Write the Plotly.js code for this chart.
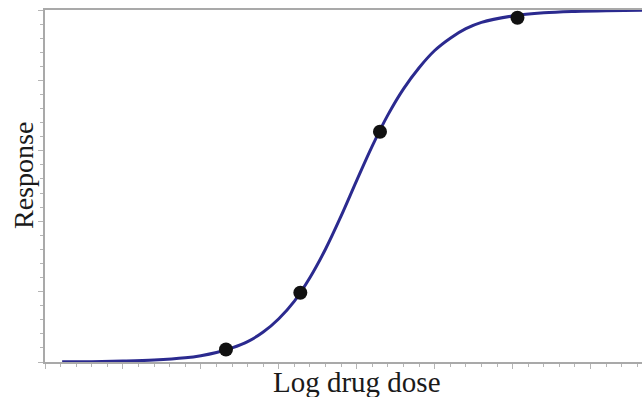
<!DOCTYPE html>
<html>
<head>
<meta charset="utf-8">
<script src="https://cdn.plot.ly/plotly-3.0.1.min.js"></script>
<style>html,body{margin:0;padding:0;background:#fff;}#chart{width:642px;height:397px;}</style>
</head>
<body>
<div id="chart"></div>
<script>
// Log dose (axis units: one minor tick = 1) and response (0-100)
const curveDose = [1.1, 3, 5, 7, 9, 10, 11, 12, 13, 14, 15, 16, 17, 18, 19, 20, 21, 22, 23, 24, 25, 26, 27, 28, 30, 32, 34, 36, 38.3];
const curveResp = [0.05, 0.1, 0.25, 0.55, 1.2, 1.8, 2.7, 4.0, 5.8, 8.5, 12.3, 17.3, 24.0, 32.1, 41.5, 51.6, 61.4, 70.2, 77.6, 83.6, 88.5, 92.0, 94.7, 96.5, 98.3, 99.2, 99.6, 99.8, 99.9];
const pointDose = [11.61, 16.38, 21.49, 30.31];
const pointResp = [3.55, 19.66, 65.4, 97.8];
const xTitle = 'Log drug dose';
const yTitle = 'Response';

const axisColor = '#a9a9a9';
const tickColor = '#b5b5b5';

const data = [
  {x: curveDose, y: curveResp, type: 'scatter', mode: 'lines',
   line: {color: '#2b2a8f', width: 3, shape: 'spline'}, hoverinfo: 'skip'},
  {x: pointDose, y: pointResp, type: 'scatter', mode: 'markers',
   marker: {color: '#111111', size: 14}, cliponaxis: false}
];

const layout = {
  width: 642, height: 397,
  margin: {l: 45, r: 0, t: 10, b: 35},
  paper_bgcolor: '#ffffff', plot_bgcolor: '#ffffff',
  showlegend: false,
  xaxis: {
    range: [0, 38.3], showgrid: false, zeroline: false,
    showline: true, linecolor: axisColor, linewidth: 2, mirror: true,
    ticks: 'outside', dtick: 5, tick0: 0, ticklen: 5, tickcolor: tickColor, tickwidth: 1,
    showticklabels: false,
    minor: {dtick: 1, tick0: 0, ticks: 'outside', ticklen: 3, tickcolor: tickColor, tickwidth: 1, showgrid: false}
  },
  yaxis: {
    range: [0, 100], showgrid: false, zeroline: false,
    showline: true, linecolor: axisColor, linewidth: 2,
    ticks: 'outside', dtick: 20, tick0: 0, ticklen: 5, tickcolor: tickColor, tickwidth: 1,
    showticklabels: false,
    minor: {dtick: 4, tick0: 0, ticks: 'outside', ticklen: 3, tickcolor: tickColor, tickwidth: 1, showgrid: false}
  },
  annotations: [
    {text: xTitle, xref: 'paper', yref: 'paper', x: 0.522, y: -0.057,
     xanchor: 'center', yanchor: 'middle', showarrow: false,
     font: {family: 'Liberation Serif, DejaVu Serif, serif', size: 29, color: '#1a1a1a'}},
    {text: yTitle, xref: 'paper', yref: 'paper', x: -0.037, y: 0.531,
     xanchor: 'center', yanchor: 'middle', showarrow: false, textangle: -90,
     font: {family: 'Liberation Serif, DejaVu Serif, serif', size: 28, color: '#1a1a1a'}}
  ]
};

Plotly.newPlot('chart', data, layout, {staticPlot: true, displayModeBar: false});
</script>
</body>
</html>
